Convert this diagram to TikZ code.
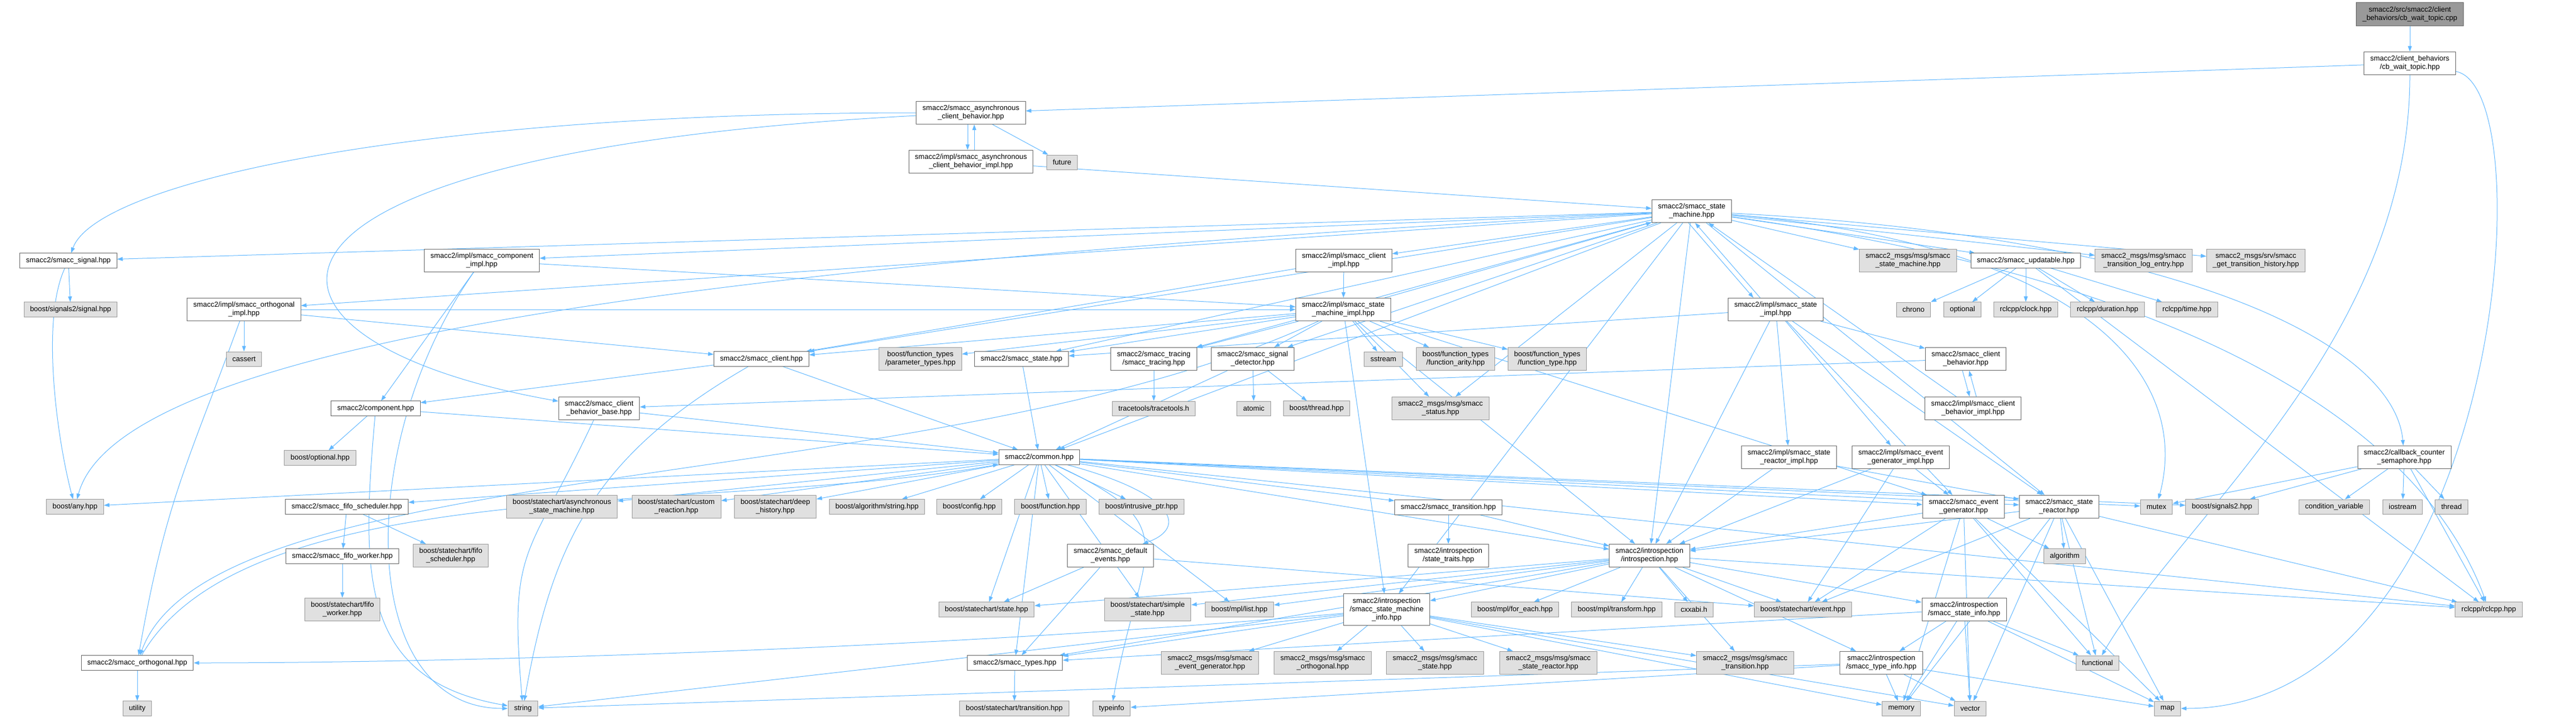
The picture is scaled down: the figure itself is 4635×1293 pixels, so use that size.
\documentclass[tikz,border=0pt]{standalone}
\usepackage{fontspec}
\setmainfont{Liberation Sans}
\usetikzlibrary{arrows.meta}
\pgfdeclarelayer{edges}
\pgfsetlayers{edges,main}
\definecolor{edgeblue}{HTML}{63B8FF}
\definecolor{hdrline}{HTML}{666666}
\definecolor{extline}{HTML}{999999}
\definecolor{extfill}{HTML}{E0E0E0}
\tikzset{every picture/.style={line width=1pt}}

\begin{document}
\begin{tikzpicture}[x=1pt, y=1pt,
    box/.style={font=\fontsize{13}{15}\selectfont, align=center,
                inner xsep=11pt, inner ysep=7pt, minimum height=26pt},
    hdr/.style={box, draw=hdrline, fill=white},
    ext/.style={box, draw=extline, fill=extfill},
    root/.style={box, draw=hdrline, fill=extline},
    dep/.style={edgeblue, line width=1pt, -{Triangle[length=10pt,width=7pt]}}]
  \useasboundingbox (0,0) rectangle (4635,-1293);

  % upper rows
  \node[root] (cbcpp) at (4336,-25.5) {smacc2/src/smacc2/client\\\_behaviors/cb\_wait\_topic.cpp};
  \node[hdr] (cbhpp) at (4336,-114) {smacc2/client\_behaviors\\/cb\_wait\_topic.hpp};
  \node[hdr] (asynccb) at (1747,-203) {smacc2/smacc\_asynchronous\\\_client\_behavior.hpp};
  \node[hdr] (asyncimpl) at (1747,-291) {smacc2/impl/smacc\_asynchronous\\\_client\_behavior\_impl.hpp};
  \node[ext] (future) at (1911,-292) {future};
  \node[hdr] (machine) at (3044,-380) {smacc2/smacc\_state\\\_machine.hpp};

  \node[hdr] (signal) at (123,-469) {smacc2/smacc\_signal.hpp};
  \node[hdr] (compimpl) at (867,-469) {smacc2/impl/smacc\_component\\\_impl.hpp};
  \node[hdr] (clientimpl) at (2418,-469) {smacc2/impl/smacc\_client\\\_impl.hpp};
  \node[ext] (msgsm) at (3433,-469) {smacc2\_msgs/msg/smacc\\\_state\_machine.hpp};
  \node[hdr] (updatable) at (3645,-469) {smacc2/smacc\_updatable.hpp};
  \node[ext] (tlog) at (3857,-469) {smacc2\_msgs/msg/smacc\\\_transition\_log\_entry.hpp};
  \node[ext] (gethist) at (4059,-469) {smacc2\_msgs/srv/smacc\\\_get\_transition\_history.hpp};

  \node[ext] (sigtwosignal) at (127,-557) {boost/signals2/signal.hpp};
  \node[hdr] (orthimpl) at (439,-557) {smacc2/impl/smacc\_orthogonal\\\_impl.hpp};
  \node[hdr] (smimpl) at (2417,-557) {smacc2/impl/smacc\_state\\\_machine\_impl.hpp};
  \node[hdr] (stateimpl) at (3195,-557) {smacc2/impl/smacc\_state\\\_impl.hpp};
  \node[ext] (chrono) at (3443,-557) {chrono};
  \node[ext] (optional) at (3531,-557) {optional};
  \node[ext] (clock) at (3645,-557) {rclcpp/clock.hpp};
  \node[ext] (duration) at (3792,-557) {rclcpp/duration.hpp};
  \node[ext] (rtime) at (3935,-557) {rclcpp/time.hpp};

  \node[ext] (cassert) at (439,-646) {cassert};
  \node[hdr] (client) at (1370,-646) {smacc2/smacc\_client.hpp};
  \node[ext] (paramtypes) at (1656,-646) {boost/function\_types\\/parameter\_types.hpp};
  \node[hdr] (state) at (1838,-646) {smacc2/smacc\_state.hpp};
  \node[hdr] (tracing) at (2076,-646) {smacc2/smacc\_tracing\\/smacc\_tracing.hpp};
  \node[hdr] (sigdet) at (2254,-646) {smacc2/smacc\_signal\\\_detector.hpp};
  \node[ext] (sstream) at (2489,-646) {sstream};
  \node[ext] (farity) at (2619,-646) {boost/function\_types\\/function\_arity.hpp};
  \node[ext] (ftype) at (2784,-646) {boost/function\_types\\/function\_type.hpp};
  \node[hdr] (cb) at (3537,-646) {smacc2/smacc\_client\\\_behavior.hpp};

  \node[hdr] (component) at (676,-735) {smacc2/component.hpp};
  \node[hdr] (cbbase) at (1078,-735) {smacc2/smacc\_client\\\_behavior\_base.hpp};
  \node[ext] (tracetools) at (2076,-735) {tracetools/tracetools.h};
  \node[ext] (atomic) at (2256,-735) {atomic};
  \node[ext] (bthread) at (2369,-735) {boost/thread.hpp};
  \node[ext] (msgstatus) at (2592,-735) {smacc2\_msgs/msg/smacc\\\_status.hpp};
  \node[hdr] (cbimpl) at (3550,-735) {smacc2/impl/smacc\_client\\\_behavior\_impl.hpp};

  % middle rows
  \node[ext] (boptional) at (576,-824) {boost/optional.hpp};
  \node[hdr] (common) at (1870,-823) {smacc2/common.hpp};
  \node[hdr] (srimpl) at (3219,-823) {smacc2/impl/smacc\_state\\\_reactor\_impl.hpp};
  \node[hdr] (egimpl) at (3420,-823) {smacc2/impl/smacc\_event\\\_generator\_impl.hpp};
  \node[hdr] (cbsem) at (4326,-823) {smacc2/callback\_counter\\\_semaphore.hpp};

  \node[ext] (any) at (135,-912) {boost/any.hpp};
  \node[hdr] (fifosched) at (624,-912) {smacc2/smacc\_fifo\_scheduler.hpp};
  \node[ext] (asyncsm) at (1011,-912) {boost/statechart/asynchronous\\\_state\_machine.hpp};
  \node[ext] (customr) at (1217,-912) {boost/statechart/custom\\\_reaction.hpp};
  \node[ext] (deephist) at (1395,-912) {boost/statechart/deep\\\_history.hpp};
  \node[ext] (algstring) at (1578,-912) {boost/algorithm/string.hpp};
  \node[ext] (config) at (1744,-912) {boost/config.hpp};
  \node[ext] (function) at (1890,-912) {boost/function.hpp};
  \node[ext] (intrusive) at (2054,-912) {boost/intrusive\_ptr.hpp};
  \node[hdr] (transition) at (2606,-913) {smacc2/smacc\_transition.hpp};
  \node[hdr] (evgen) at (3533,-912) {smacc2/smacc\_event\\\_generator.hpp};
  \node[hdr] (sreactor) at (3705,-912) {smacc2/smacc\_state\\\_reactor.hpp};
  \node[ext] (mutex) at (3880,-912) {mutex};
  \node[ext] (signals) at (3998,-912) {boost/signals2.hpp};
  \node[ext] (condvar) at (4200,-912) {condition\_variable};
  \node[ext] (iostream) at (4323,-912) {iostream};
  \node[ext] (thread) at (4411,-912) {thread};

  \node[hdr] (fifoworker) at (616,-1001) {smacc2/smacc\_fifo\_worker.hpp};
  \node[ext] (bfifosched) at (811,-1000) {boost/statechart/fifo\\\_scheduler.hpp};
  \node[hdr] (defevents) at (1998,-1000) {smacc2/smacc\_default\\\_events.hpp};
  \node[hdr] (traits) at (2606,-1000) {smacc2/introspection\\/state\_traits.hpp};
  \node[hdr] (intro) at (2968,-1000) {smacc2/introspection\\/introspection.hpp};
  \node[ext] (algorithm) at (3715,-1001) {algorithm};

  % lower rows
  \node[ext] (bfifoworker) at (616,-1097) {boost/statechart/fifo\\\_worker.hpp};
  \node[ext] (bstate) at (1775,-1097) {boost/statechart/state.hpp};
  \node[ext] (simplestate) at (2065,-1097) {boost/statechart/simple\\\_state.hpp};
  \node[ext] (mpllist) at (2230,-1097) {boost/mpl/list.hpp};
  \node[hdr] (sminfo) at (2495,-1097) {smacc2/introspection\\/smacc\_state\_machine\\\_info.hpp};
  \node[ext] (foreach) at (2726,-1097) {boost/mpl/for\_each.hpp};
  \node[ext] (transform) at (2909,-1097) {boost/mpl/transform.hpp};
  \node[ext] (cxxabi) at (3048,-1097) {cxxabi.h};
  \node[ext] (event) at (3244,-1097) {boost/statechart/event.hpp};
  \node[hdr] (stateinfo) at (3534,-1097) {smacc2/introspection\\/smacc\_state\_info.hpp};
  \node[ext] (rclcpp) at (4478,-1097) {rclcpp/rclcpp.hpp};

  \node[hdr] (orthogonal) at (247,-1193) {smacc2/smacc\_orthogonal.hpp};
  \node[hdr] (types) at (1826,-1193) {smacc2/smacc\_types.hpp};
  \node[ext] (msgevgen) at (2177,-1193) {smacc2\_msgs/msg/smacc\\\_event\_generator.hpp};
  \node[ext] (msgorth) at (2380,-1193) {smacc2\_msgs/msg/smacc\\\_orthogonal.hpp};
  \node[ext] (msgstate) at (2582,-1193) {smacc2\_msgs/msg/smacc\\\_state.hpp};
  \node[ext] (msgsr) at (2786,-1193) {smacc2\_msgs/msg/smacc\\\_state\_reactor.hpp};
  \node[ext] (msgtrans) at (3140,-1193) {smacc2\_msgs/msg/smacc\\\_transition.hpp};
  \node[hdr] (typeinfotwo) at (3385,-1193) {smacc2/introspection\\/smacc\_type\_info.hpp};
  \node[ext] (functional) at (3774,-1193) {functional};

  \node[ext] (utility) at (247,-1275) {utility};
  \node[ext] (string) at (941,-1275) {string};
  \node[ext] (stransition) at (1825,-1275) {boost/statechart/transition.hpp};
  \node[ext] (typeinfo) at (2000,-1275) {typeinfo};
  \node[ext] (memory) at (3421,-1275) {memory};
  \node[ext] (vector) at (3545,-1275) {vector};
  \node[ext] (map) at (3900,-1275) {map};

  \begin{pgfonlayer}{edges}
    % straight includes
    \foreach \a/\b in {cbcpp/cbhpp, cbhpp/asynccb, asynccb/future, asyncimpl/machine,
        machine/signal, machine/orthimpl, machine/compimpl, machine/clientimpl,
        machine/msgsm, machine/updatable, machine/tlog, machine/gethist,
        machine/state, machine/client, machine/msgstatus, machine/intro,
        machine/sminfo, machine/common, machine/tracing, machine/sigdet, machine/sreactor,
        smimpl/machine, clientimpl/smimpl, clientimpl/client,
        compimpl/component, compimpl/smimpl,
        orthimpl/cassert, orthimpl/client, orthimpl/smimpl,
        smimpl/client, smimpl/paramtypes, smimpl/state, smimpl/sstream, smimpl/farity,
        smimpl/ftype, smimpl/msgstatus, smimpl/sigdet, smimpl/tracing, smimpl/intro,
        smimpl/sminfo, smimpl/evgen,
        stateimpl/srimpl, stateimpl/egimpl, stateimpl/intro, stateimpl/cb,
        stateimpl/state, stateimpl/sreactor, stateimpl/evgen,
        cb/cbbase, cbimpl/machine,
        srimpl/intro, srimpl/sreactor, egimpl/intro, egimpl/evgen, egimpl/event,
        client/common, client/component, state/common, tracing/tracetools,
        sigdet/atomic, sigdet/bthread, sigdet/common,
        cbbase/common, component/boptional, component/common,
        updatable/chrono, updatable/optional, updatable/clock, updatable/duration,
        updatable/rtime, updatable/rclcpp,
        cbsem/mutex, cbsem/signals, cbsem/condvar, cbsem/iostream, cbsem/thread, cbsem/rclcpp,
        signal/sigtwosignal,
        common/any, common/fifosched, common/asyncsm, common/customr, common/deephist,
        common/algstring, common/config, common/function, common/intrusive,
        common/transition, common/types, common/bstate, common/simplestate,
        common/mpllist, common/intro, common/evgen, common/sreactor, common/mutex,
        common/signals, common/rclcpp,
        fifosched/fifoworker, fifosched/bfifosched, fifoworker/bfifoworker,
        orthogonal/utility,
        defevents/bstate, defevents/types, defevents/event, types/stransition,
        transition/traits, transition/intro,
        intro/foreach, intro/transform, intro/cxxabi, intro/event, intro/sminfo,
        intro/msgtrans, intro/typeinfotwo, intro/stateinfo, intro/rclcpp, intro/bstate,
        intro/simplestate, intro/mpllist, intro/types,
        sminfo/msgorth, sminfo/msgstate, sminfo/msgsr, sminfo/msgtrans, sminfo/memory,
        sminfo/vector, sminfo/types, sminfo/msgevgen, sminfo/string,
        typeinfotwo/memory, typeinfotwo/vector, typeinfotwo/map, typeinfotwo/string,
        typeinfotwo/typeinfo,
        stateinfo/functional, stateinfo/memory, stateinfo/vector, stateinfo/map,
        stateinfo/typeinfotwo, stateinfo/types,
        evgen/intro, evgen/algorithm, evgen/functional, evgen/memory, evgen/vector,
        evgen/map, evgen/event,
        sreactor/intro, sreactor/algorithm, sreactor/functional, sreactor/map,
        sreactor/vector, sreactor/memory, sreactor/rclcpp, sreactor/event}
      \draw[dep] (\a) -- (\b);

    % routed includes
    \foreach \a/\b/\o/\l/\i/\m in {signal/any/-115/120/105/120,
        machine/any/183/1800/75/300,
        asynccb/cbbase/183/1400/170/700, asynccb/signal/180/1000/70/150,
        cbhpp/map/-10/250/0/600, cbhpp/functional/-90/500/60/300,
        machine/mutex/-5/700/75/250, machine/cbsem/-3/900/95/200,
        machine/rclcpp/-8/1000/110/300,
        compimpl/string/-125/400/180/300, component/string/-95/300/170/300,
        cbbase/string/-115/300/95/300, client/string/-150/350/80/300,
        common/typeinfo/-25/300/80/300, common/defevents/-15/250/20/150,
        orthogonal/common/60/400/190/600,
        orthimpl/orthogonal/-110/300/80/300, smimpl/orthogonal/205/800/70/400,
        sminfo/orthogonal/185/800/0/600}
      \draw[dep] (\a) .. controls +(\o:\l) and +(\i:\m) .. (\b);

    % include cycles
    \draw[dep] ([xshift=-6pt]asynccb.south) -- ([xshift=-6pt]asyncimpl.north);
    \draw[dep] ([xshift=6pt]asyncimpl.north) -- ([xshift=6pt]asynccb.south);
    \draw[dep] ([xshift=-6pt]cb.south) -- ([xshift=-6pt]cbimpl.north);
    \draw[dep] ([xshift=6pt]cbimpl.north) -- ([xshift=6pt]cb.south);
    \draw[dep] ([xshift=-6pt]machine.south) -- ([xshift=-40pt]stateimpl.north);
    \draw[dep] ([xshift=-28pt]stateimpl.north) -- ([xshift=6pt]machine.south);
  \end{pgfonlayer}
\end{tikzpicture}
\end{document}
